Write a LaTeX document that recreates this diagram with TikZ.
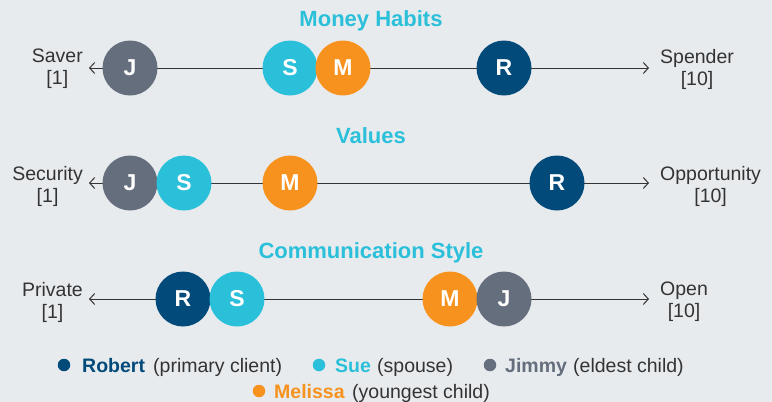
\documentclass[tikz,border=0pt]{standalone}
\usepackage{fontspec}
\setmainfont{Liberation Sans}
\usetikzlibrary{arrows.meta}
\definecolor{bg}{HTML}{E8EBEE}
\definecolor{robert}{HTML}{024A7A}
\definecolor{sue}{HTML}{2BC0DA}
\definecolor{jimmy}{HTML}{646E7C}
\definecolor{melissa}{HTML}{F7921E}
\definecolor{txt}{HTML}{333333}
\begin{document}
\begin{tikzpicture}[x=1pt,y=-1pt,
  person/.style={circle, minimum size=55pt, inner sep=0pt, text=white,
    font=\fontsize{23}{25}\selectfont\bfseries},
  rowtitle/.style={text=sue, font=\fontsize{22}{24}\selectfont\bfseries},
  endlab/.style={align=center, text=txt, inner sep=0pt,
    font=\fontsize{19.5}{22}\selectfont},
  axisline/.style={draw=txt, line width=1pt,
    {Straight Barb[length=5pt,width=11pt]}-{Straight Barb[length=5pt,width=11pt]}},
  legdot/.style={circle, minimum size=12.5pt, inner sep=0pt},
  legname/.style={anchor=base west, inner sep=0pt, font=\fontsize{19.5}{22}\selectfont\bfseries},
  legdesc/.style={anchor=base west, inner sep=0pt, text=txt, font=\fontsize{19.5}{22}\selectfont}
]
\fill[bg] (0,0) rectangle (772,402);
\useasboundingbox (0,0) rectangle (772,402);

% ---------- Row 1: Money Habits ----------
\node[rowtitle] (t1) at (371,21) {Money Habits};
\node[endlab, anchor=east] (l1) at (83,69) {Saver\\{[1]}};
\node[endlab, anchor=west] (r1) at (660,69) {Spender\\{[10]}};
\coordinate (a1) at (89,68);
\coordinate (b1) at (649,68);
\draw[axisline] (a1) -- (b1);
\node[person, fill=jimmy] (j1) at (130,68) {J};
\node[person, fill=sue] (s1) at (290,68) {S};
\node[person, fill=melissa] (m1) at (343,68) {M};
\node[person, fill=robert] (rb1) at (504,68) {R};

% ---------- Row 2: Values ----------
\node[rowtitle] (t2) at (371,136) {Values};
\node[endlab, anchor=east] (l2) at (83,186) {Security\\{[1]}};
\node[endlab, anchor=west] (r2) at (660,186) {Opportunity\\{[10]}};
\coordinate (a2) at (89,183);
\coordinate (b2) at (649,183);
\draw[axisline] (a2) -- (b2);
\node[person, fill=jimmy] (j2) at (130,183) {J};
\node[person, fill=sue] (s2) at (184,183) {S};
\node[person, fill=melissa] (m2) at (290,183) {M};
\node[person, fill=robert] (rb2) at (557,183) {R};

% ---------- Row 3: Communication Style ----------
\node[rowtitle] (t3) at (371,253) {Communication Style};
\node[endlab, anchor=east] (l3) at (83,302) {Private\\{[1]}};
\node[endlab, anchor=west] (r3) at (660,302) {Open\\{[10]}};
\coordinate (a3) at (89,299);
\coordinate (b3) at (649,299);
\draw[axisline] (a3) -- (b3);
\node[person, fill=robert] (rb3) at (183,299) {R};
\node[person, fill=sue] (s3) at (237,299) {S};
\node[person, fill=melissa] (m3) at (450,299) {M};
\node[person, fill=jimmy] (j3) at (504,299) {J};

% ---------- Legend ----------
\node[legdot, fill=robert] (dR) at (64,365) {};
\node[legname, text=robert] (nR) at (82,372) {Robert};
\node[legdesc] (eR) at (153,372) {(primary client)};
\node[legdot, fill=sue] (dS) at (319,365) {};
\node[legname, text=sue] (nS) at (335,372) {Sue};
\node[legdesc] (eS) at (377,372) {(spouse)};
\node[legdot, fill=jimmy] (dJ) at (490,365) {};
\node[legname, text=jimmy] (nJ) at (505,372) {Jimmy};
\node[legdesc] (eJ) at (573,372) {(eldest child)};
\node[legdot, fill=melissa] (dM) at (259,391) {};
\node[legname, text=melissa] (nM) at (274,398) {Melissa};
\node[legdesc] (eM) at (352,398) {(youngest child)};
\end{tikzpicture}
\end{document}
